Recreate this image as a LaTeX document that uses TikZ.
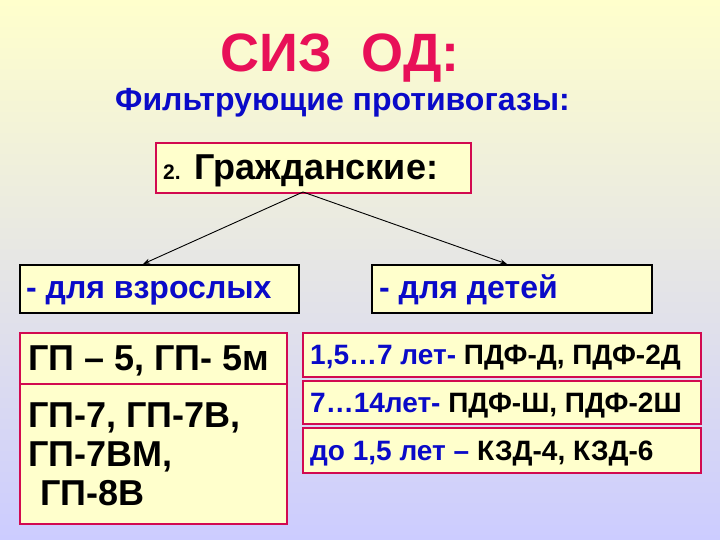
\documentclass[tikz,border=0pt]{standalone}
\usepackage{fontspec}
\setmainfont{Liberation Sans}
\usetikzlibrary{arrows.meta}
\definecolor{bgtop}{RGB}{255,255,204}
\definecolor{bgbot}{RGB}{204,204,255}
\definecolor{boxfill}{RGB}{255,255,204}
\definecolor{crim}{RGB}{232,16,88}
\definecolor{redline}{RGB}{210,10,80}
\definecolor{tblue}{RGB}{10,10,200}
\newcommand{\fsz}[1]{\fontsize{#1}{#1}\selectfont}
\begin{document}
\begin{tikzpicture}[x=1pt,y=-1pt,
  redbox/.style={draw=redline, line width=1.8pt, fill=boxfill, inner sep=0pt, anchor=north west},
  blackbox/.style={draw=black, line width=1.8pt, fill=boxfill, inner sep=0pt, anchor=north west},
  txt/.style={anchor=base west, inner sep=0pt, font=\bfseries},
  arr/.style={draw=black, line width=0.9pt, -{Stealth[length=7pt,width=5pt]}}]
\shade[top color=bgtop, bottom color=bgbot] (0,0) rectangle (720,540);
\useasboundingbox (0,0) rectangle (720,540);

% title
\node[txt, text=crim] (title) at (220,72) {\fsz{54}СИЗ\ \ ОД:};
\node[txt, text=tblue] (sub) at (115,111) {\fsz{32}Фильтрующие противогазы:};

% civil box
\node[redbox, minimum width=315pt, minimum height=50pt] (civ) at (155,142) {};
\node[txt] (civt) at (163,180) {\fsz{21}2.\hspace{14pt}\fsz{36}Гражданские:};

% child category boxes
\node[blackbox, minimum width=279pt, minimum height=48pt] (adult) at (19,264) {};
\node[txt, text=tblue] (adultt) at (26,298) {\fsz{32}- для взрослых};
\node[blackbox, minimum width=280pt, minimum height=48pt] (kids) at (371,264) {};
\node[txt, text=tblue] (kidst) at (379,298) {\fsz{32}- для детей};

% arrows
\coordinate (split) at (303,192);
\coordinate (aend) at (143,264);
\coordinate (kend) at (507,264);
\draw[arr] (split) -- (aend);
\draw[arr] (split) -- (kend);

% adult models
\node[redbox, minimum width=267pt, minimum height=51pt] (gp5) at (19,332) {};
\node[txt] (gp5t) at (28,370) {\fsz{36}ГП – 5, ГП- 5м};
\node[redbox, minimum width=267pt, minimum height=140pt] (gp7) at (19,383) {};
\node[txt] (gp7a) at (28,427) {\fsz{36}ГП-7, ГП-7В,};
\node[txt] (gp7b) at (28,466) {\fsz{36}ГП-7ВМ,};
\node[txt] (gp7c) at (40,505) {\fsz{36}ГП-8В};

% kids models
\node[redbox, minimum width=398pt, minimum height=44pt] (k1) at (302,332) {};
\node[txt] (k1t) at (310,364) {\fsz{28}\textcolor{tblue}{1,5…7 лет-} ПДФ-Д, ПДФ-2Д};
\node[redbox, minimum width=398pt, minimum height=43pt] (k2) at (302,380) {};
\node[txt] (k2t) at (310,412) {\fsz{28}\textcolor{tblue}{7…14лет-} ПДФ-Ш, ПДФ-2Ш};
\node[redbox, minimum width=398pt, minimum height=45pt] (k3) at (302,427) {};
\node[txt] (k3t) at (310,460) {\fsz{28}\textcolor{tblue}{до 1,5 лет –} КЗД-4, КЗД-6};
\end{tikzpicture}
\end{document}
